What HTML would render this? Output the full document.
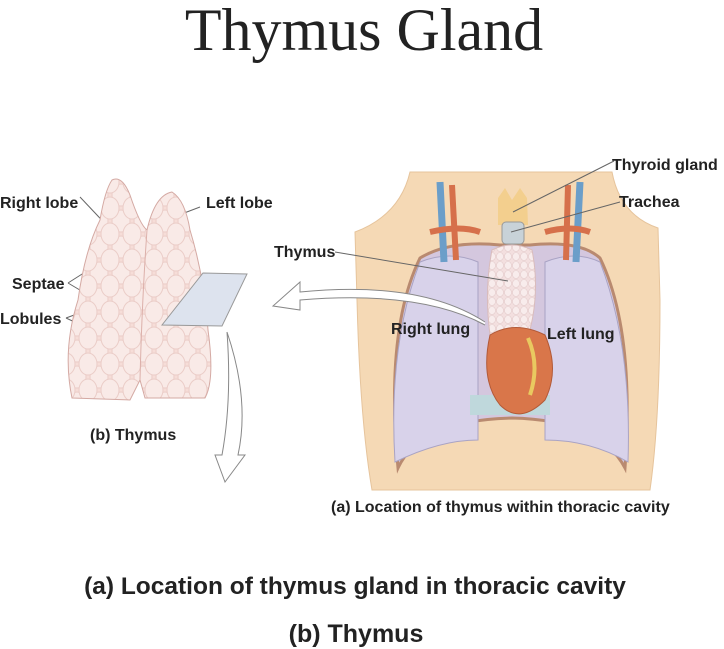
<!DOCTYPE html>
<html><head><style>
body{margin:0;background:#fff;}
svg{display:block}
text{font-family:"Liberation Sans",Arial,sans-serif;font-weight:bold;fill:#222}
</style></head><body>
<svg width="724" height="649" viewBox="0 0 724 649" xmlns="http://www.w3.org/2000/svg">
<defs>
<pattern id="lob" width="22" height="26" patternUnits="userSpaceOnUse">
<rect width="22" height="26" fill="#f6ddd8"/>
<ellipse cx="11" cy="13" rx="9" ry="11" fill="#f9eae7" stroke="#ebcdc8" stroke-width="1"/>
<ellipse cx="0" cy="0" rx="9" ry="11" fill="#f9eae7" stroke="#ebcdc8" stroke-width="1"/>
<ellipse cx="22" cy="0" rx="9" ry="11" fill="#f9eae7" stroke="#ebcdc8" stroke-width="1"/>
<ellipse cx="0" cy="26" rx="9" ry="11" fill="#f9eae7" stroke="#ebcdc8" stroke-width="1"/>
<ellipse cx="22" cy="26" rx="9" ry="11" fill="#f9eae7" stroke="#ebcdc8" stroke-width="1"/>
</pattern>
<pattern id="lob2" width="8" height="9" patternUnits="userSpaceOnUse">
<rect width="8" height="9" fill="#f3dfdf"/>
<ellipse cx="4" cy="4.5" rx="3.5" ry="4" fill="#f8ecec" stroke="#e4cccc" stroke-width=".6"/>
</pattern>
</defs>
<text x="364" y="50" text-anchor="middle" style="font-family:'Liberation Serif',serif;font-weight:normal;font-size:60px" fill="#111">Thymus Gland</text>

<path d="M410,172 Q400,215 355,232 L357,300 Q360,420 372,490 L650,490 Q660,420 660,300 L658,228 Q620,215 612,172 Z" fill="#f5d9b5" stroke="#e6c49c"/>
<path d="M398,468 Q385,330 420,258 Q450,240 500,245 L530,245 Q580,240 600,258 Q635,330 625,468 Q600,420 512,418 Q420,420 398,468 Z" fill="#d4c7de" stroke="#b98a70" stroke-width="3"/>
<path d="M395,462 Q388,345 420,262 Q450,250 478,262 L478,440 Q440,440 395,462 Z" fill="#d8d2ea" stroke="#a9a3c4"/>
<path d="M545,262 Q575,250 600,262 Q632,345 628,462 Q590,440 545,440 Z" fill="#d8d2ea" stroke="#a9a3c4"/>
<rect x="470" y="395" width="80" height="20" fill="#bfd8dc"/>
<path d="M440,182 L444,262 M580,182 L576,262" stroke="#6b9ec9" stroke-width="7" fill="none"/>
<path d="M452,185 L456,260 M568,185 L566,260" stroke="#d6704b" stroke-width="6" fill="none"/>
<path d="M430,232 Q460,225 480,232 M545,232 Q570,225 590,232" stroke="#d6704b" stroke-width="6" fill="none"/>
<path d="M498,198 L505,188 L512,200 L520,188 L527,198 L528,225 L498,225 Z" fill="#f3cf8e"/>
<rect x="502" y="222" width="22" height="22" rx="4" fill="#c8d2d8" stroke="#999"/>
<path d="M492,250 Q512,240 532,250 Q540,290 530,330 L490,335 Q484,290 492,250 Z" fill="url(#lob2)" stroke="#d9bcbc"/>
<path d="M490,335 Q515,320 545,335 Q560,370 545,400 Q520,425 500,405 Q480,380 490,335 Z" fill="#d9764a" stroke="#b25a38"/>
<path d="M528,338 Q540,365 530,395" stroke="#e9c960" stroke-width="4" fill="none"/>
<g stroke="#666" stroke-width="1" fill="none">
<line x1="614" y1="161" x2="513" y2="212"/>
<line x1="620" y1="202" x2="511" y2="232"/>
<line x1="335" y1="252" x2="508" y2="281"/>
<line x1="80" y1="197" x2="113" y2="232"/>
<line x1="200" y1="207" x2="171" y2="218"/>
<path d="M68,283 L90,269 M68,283 L90,296 M66,318 L96,307 M66,318 L94,331"/>
</g>
<path d="M112,180 Q122,175 130,195 Q140,225 147,230 Q155,195 172,192 Q185,200 190,230 Q205,280 208,330 Q215,380 205,398 L145,398 L140,380 L130,400 L72,398 Q62,350 78,300 Q85,250 100,220 Q105,190 112,180 Z" fill="url(#lob)" stroke="#d4a9a3"/>
<path d="M147,230 Q142,300 140,380" stroke="#dcb0aa" fill="none"/>
<polygon points="203,273 247,274 222,326 162,325" fill="#dde3ee" stroke="#999"/>
<path d="M485,325 Q420,290 300,300 L300,310 L273,306 L300,282 L300,292 Q420,280 485,322" fill="#fff" stroke="#888"/>
<path d="M227,332 Q250,400 238,455 L245,455 L225,482 L215,455 L222,455 Q232,400 227,332" fill="#fff" stroke="#888"/>

<g font-size="16">
<text x="0" y="208">Right lobe</text>
<text x="206" y="208">Left lobe</text>
<text x="12" y="289">Septae</text>
<text x="0" y="324">Lobules</text>
<text x="90" y="440">(b) Thymus</text>
<text x="612" y="170">Thyroid gland</text>
<text x="619" y="207">Trachea</text>
<text x="274" y="257">Thymus</text>
<text x="391" y="334">Right lung</text>
<text x="547" y="339">Left lung</text>
<text x="331" y="512">(a) Location of thymus within thoracic cavity</text>
</g>
<text x="355" y="594" text-anchor="middle" font-size="24.5">(a) Location of thymus gland in thoracic cavity</text>
<text x="356" y="642" text-anchor="middle" font-size="25">(b) Thymus</text>
</svg>
</body></html>
